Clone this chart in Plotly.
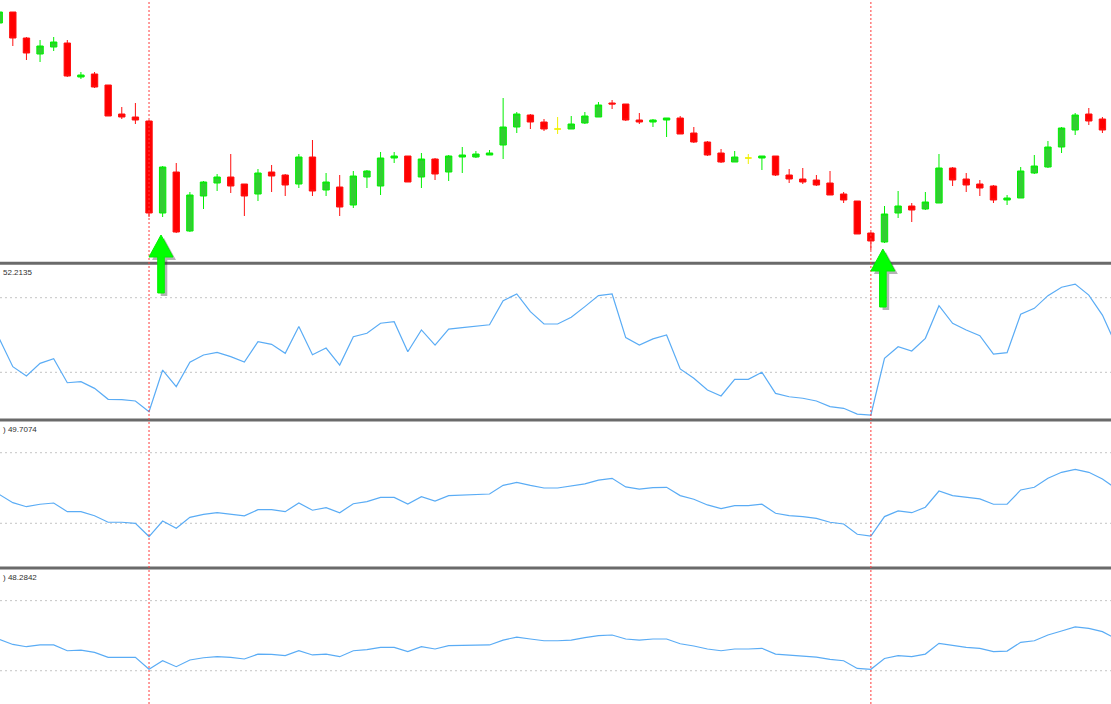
import plotly.graph_objects as go

# candles (price), one per bar
opens = [1.3077, 1.3088, 1.3062, 1.3046, 1.3053, 1.3057, 1.3023, 1.3026, 1.3015, 1.2986,
         1.2983, 1.2979, 1.2887, 1.2928, 1.2869, 1.2904, 1.2917, 1.2923, 1.2916, 1.2906,
         1.2928, 1.2925, 1.2916, 1.2943, 1.2910, 1.2913, 1.2895, 1.2923, 1.2914, 1.2942,
         1.2944, 1.2923, 1.2941, 1.2928, 1.2943, 1.2943, 1.2945, 1.2955, 1.2973, 1.2985,
         1.2978, 1.2971, 1.2971, 1.2977, 1.2983, 1.2997, 1.2996, 1.2980, 1.2978, 1.2980,
         1.2982, 1.2967, 1.2958, 1.2947, 1.2938, 1.2942, 1.2942, 1.2944, 1.2925, 1.2921,
         1.2920, 1.2917, 1.2906, 1.2899, 1.2867, 1.2858, 1.2887, 1.2894, 1.2891, 1.2897,
         1.2932, 1.2921, 1.2916, 1.2914, 1.2900, 1.2902, 1.2927, 1.2933, 1.2953, 1.2970,
         1.2986, 1.2981]
highs = [1.3090, 1.3088, 1.3063, 1.3060, 1.3063, 1.3060, 1.3028, 1.3028, 1.3015, 1.2993,
         1.2997, 1.2980, 1.2934, 1.2937, 1.2908, 1.2919, 1.2926, 1.2946, 1.2916, 1.2931,
         1.2935, 1.2926, 1.2946, 1.2960, 1.2927, 1.2925, 1.2929, 1.2930, 1.2948, 1.2948,
         1.2944, 1.2947, 1.2942, 1.2945, 1.2953, 1.2949, 1.2950, 1.3002, 1.2988, 1.2986,
         1.2981, 1.2983, 1.2984, 1.2988, 1.2998, 1.3000, 1.2996, 1.2987, 1.2981, 1.2982,
         1.2984, 1.2973, 1.2959, 1.2951, 1.2949, 1.2946, 1.2944, 1.2944, 1.2931, 1.2932,
         1.2925, 1.2929, 1.2908, 1.2899, 1.2868, 1.2894, 1.2909, 1.2897, 1.2908, 1.2946,
         1.2933, 1.2927, 1.2920, 1.2915, 1.2905, 1.2933, 1.2945, 1.2959, 1.2973, 1.2987,
         1.2992, 1.2983]
lows = [1.3075, 1.3054, 1.3040, 1.3038, 1.3049, 1.3023, 1.3021, 1.3012, 1.2984, 1.2981,
        1.2976, 1.2883, 1.2883, 1.2867, 1.2868, 1.2891, 1.2909, 1.2907, 1.2884, 1.2899,
        1.2908, 1.2904, 1.2912, 1.2904, 1.2904, 1.2884, 1.2892, 1.2912, 1.2905, 1.2937,
        1.2918, 1.2912, 1.2920, 1.2919, 1.2927, 1.2942, 1.2945, 1.2941, 1.2967, 1.2971,
        1.2969, 1.2966, 1.2971, 1.2976, 1.2983, 1.2991, 1.2979, 1.2976, 1.2973, 1.2963,
        1.2966, 1.2957, 1.2944, 1.2937, 1.2938, 1.2936, 1.2930, 1.2924, 1.2917, 1.2916,
        1.2914, 1.2905, 1.2897, 1.2866, 1.2850, 1.2857, 1.2882, 1.2878, 1.2890, 1.2897,
        1.2914, 1.2908, 1.2904, 1.2897, 1.2895, 1.2902, 1.2926, 1.2932, 1.2947, 1.2965,
        1.2975, 1.2967]
closes = [1.3088, 1.3062, 1.3047, 1.3054, 1.3058, 1.3024, 1.3025, 1.3013, 1.2984, 1.2983,
          1.2980, 1.2887, 1.2933, 1.2868, 1.2905, 1.2918, 1.2923, 1.2914, 1.2904, 1.2927,
          1.2924, 1.2915, 1.2943, 1.2909, 1.2918, 1.2893, 1.2924, 1.2929, 1.2942, 1.2944,
          1.2918, 1.2941, 1.2926, 1.2944, 1.2945, 1.2946, 1.2947, 1.2973, 1.2986, 1.2978,
          1.2971, 1.2971, 1.2976, 1.2984, 1.2995, 1.2996, 1.2980, 1.2978, 1.2980, 1.2982,
          1.2966, 1.2958, 1.2945, 1.2938, 1.2943, 1.2942, 1.2944, 1.2925, 1.2921, 1.2918,
          1.2915, 1.2905, 1.2900, 1.2866, 1.2859, 1.2886, 1.2894, 1.2890, 1.2898, 1.2932,
          1.2920, 1.2915, 1.2912, 1.2900, 1.2902, 1.2929, 1.2934, 1.2953, 1.2972, 1.2985,
          1.2979, 1.2970]

# three RSI windows (the last bar is just off screen)
rsi_fast = [48.2, 33.0, 28.0, 34.8, 37.3, 24.4, 25.0, 21.4, 15.5, 15.3,
            14.6, 8.9, 31.2, 22.3, 35.4, 39.3, 40.7, 38.4, 35.5, 46.4,
            45.0, 40.2, 54.5, 39.4, 43.0, 33.9, 49.1, 50.9, 56.3, 57.1,
            41.0, 52.7, 44.6, 53.2, 53.9, 54.5, 55.5, 68.4, 72.0, 62.5,
            55.9, 55.9, 59.5, 65.2, 71.1, 72.0, 48.6, 44.6, 47.9, 50.0,
            31.8, 26.8, 20.5, 17.3, 26.2, 26.2, 30.0, 18.7, 16.9, 16.1,
            14.6, 11.6, 10.7, 7.6, 7.1, 37.5, 43.7, 41.4, 48.2, 65.7,
            56.3, 52.7, 49.6, 39.7, 40.5, 61.1, 64.3, 71.1, 75.6, 77.3,
            71.4, 60.7, 44.6]
rsi_mid = [46.4, 41.7, 39.4, 40.8, 41.5, 36.6, 36.6, 34.3, 30.6, 30.6,
           30.0, 22.5, 31.3, 27.2, 33.4, 35.1, 36.0, 35.3, 34.2, 37.7,
           37.7, 36.6, 41.5, 37.4, 38.9, 36.0, 41.1, 42.3, 44.7, 44.7,
           40.9, 45.1, 42.6, 45.7, 46.0, 46.0, 46.6, 51.5, 53.2, 51.5,
           50.0, 50.0, 51.1, 52.3, 54.5, 55.5, 50.6, 49.4, 50.2, 50.4,
           45.7, 43.6, 40.4, 38.3, 40.0, 40.0, 40.8, 35.7, 34.3, 33.8,
           32.8, 30.6, 29.6, 23.8, 22.8, 33.8, 37.0, 36.0, 39.1, 48.3,
           45.7, 44.7, 43.8, 40.8, 40.8, 48.9, 50.4, 55.5, 58.9, 60.6,
           58.9, 55.1, 49.7]
rsi_slow = [47.9, 45.0, 43.7, 44.7, 44.7, 41.4, 41.8, 40.5, 37.6, 37.6,
            37.6, 30.8, 35.7, 32.3, 36.1, 37.4, 38.0, 37.6, 36.7, 39.5,
            39.3, 38.6, 41.4, 39.0, 39.5, 38.0, 41.4, 42.0, 43.3, 43.3,
            40.9, 43.7, 42.4, 44.3, 44.3, 44.3, 44.7, 47.5, 49.2, 48.1,
            47.1, 47.1, 47.5, 48.9, 50.0, 50.4, 48.1, 47.5, 48.1, 48.1,
            45.4, 44.1, 42.4, 41.4, 42.4, 42.4, 42.8, 39.5, 39.0, 38.6,
            37.8, 36.5, 35.7, 31.3, 30.8, 37.0, 38.6, 38.0, 39.5, 45.6,
            44.3, 43.3, 42.8, 40.9, 41.2, 46.2, 47.1, 50.4, 52.7, 55.0,
            54.2, 52.3, 48.3]
rsi_labels = ["52.2135", ") 49.7074", ") 48.2842"]
rsi_levels = [30, 70]

signal_lines = [11, 64]          # bars with the vertical markers
arrow_bars = [12, 65]            # buy arrows
arrow_prices = [1.2865, 1.2851]  # arrow tip price

W, H = 1111, 704
x_range = [0.0587, 81.63]
px_bar = W / (x_range[1] - x_range[0])

# panel layout: pixel rows -> paper domains
def dom(top_px, bot_px):
    return [1 - bot_px / H, 1 - top_px / H]

price_dom = dom(0, 262)
price_range = [1.2838, 1.3100]
panels = [
    (dom(265, 419), [4.96, 87.53]),
    (dom(422, 566), [5.8, 87.4]),
    (dom(570, 704), [11.0, 87.5]),
]
separators_px = [263.3, 420, 568]

bars = list(range(len(opens)))
up = [i for i in bars if closes[i] > opens[i]]
down = [i for i in bars if closes[i] < opens[i]]
doji = [i for i in bars if closes[i] == opens[i]]

def pick(arr, idx):
    return [arr[i] for i in idx]

fig = go.Figure()

for idx, fill, edge in [(up, "#32CD32", "#00F000"),
                        (down, "#FF0000", "#FF1010"),
                        (doji, "#FFFF00", "#F0F000")]:
    fig.add_trace(go.Candlestick(
        x=idx, open=pick(opens, idx), high=pick(highs, idx),
        low=pick(lows, idx), close=pick(closes, idx),
        increasing=dict(fillcolor=fill, line=dict(color=edge, width=1)),
        decreasing=dict(fillcolor=fill, line=dict(color=edge, width=1)),
        whiskerwidth=0, showlegend=False, hoverinfo="skip",
        xaxis="x", yaxis="y"))

for k, series in enumerate([rsi_fast, rsi_mid, rsi_slow]):
    fig.add_trace(go.Scatter(
        x=list(range(len(series))), y=series, mode="lines",
        line=dict(color="#5AACF5", width=1.2),
        showlegend=False, hoverinfo="skip",
        xaxis="x", yaxis="y%d" % (k + 2)))

shapes = []
annotations = []

# level lines
for k, (d, r) in enumerate(panels):
    for lv in rsi_levels:
        shapes.append(dict(type="line", xref="paper", yref="y%d" % (k + 2),
                           x0=0, x1=1, y0=lv, y1=lv, layer="below",
                           line=dict(color="#C4C4C4", width=1, dash="2px,3px")))
    annotations.append(dict(
        text=rsi_labels[k], xref="paper", yref="paper", x=0.0005,
        y=d[1] - 7 / H, xanchor="left", yanchor="middle", showarrow=False,
        font=dict(family="Liberation Sans", size=8, color="#303030")))

# window separators
for p in separators_px:
    yy = 1 - p / H
    shapes.append(dict(type="line", xref="paper", yref="paper",
                       x0=0, x1=1, y0=yy, y1=yy,
                       line=dict(color="#6A6A6A", width=3)))

# vertical markers
for b in signal_lines:
    shapes.append(dict(type="line", xref="x", yref="paper",
                       x0=b, x1=b, y0=0, y1=1,
                       line=dict(color="#FF3A3A", width=1, dash="2px,2px")))

# arrows
def price_to_paper(p):
    return price_dom[0] + (p - price_range[0]) / (price_range[1] - price_range[0]) * (price_dom[1] - price_dom[0])

def arrow_path(xc, ytip, ox=0.0, oy=0.0):
    hw, hh, sw, ln = 12 / px_bar, 22 / H, 3.3 / px_bar, 58 / H
    xc = xc + ox / px_bar
    ytip = ytip - oy / H
    pts = [(xc, ytip), (xc + hw, ytip - hh), (xc + sw, ytip - hh),
           (xc + sw, ytip - ln), (xc - sw, ytip - ln), (xc - sw, ytip - hh),
           (xc - hw, ytip - hh)]
    return "M " + " L ".join("%.4f,%.5f" % pt for pt in pts) + " Z"

for b, p in zip(arrow_bars, arrow_prices):
    xc = b - 0.12
    yt = price_to_paper(p)
    shapes.append(dict(type="path", xref="x", yref="paper", layer="above",
                       path=arrow_path(xc, yt, 3, 3),
                       fillcolor="rgba(40,40,40,0.35)", line=dict(width=0)))
    shapes.append(dict(type="path", xref="x", yref="paper", layer="above",
                       path=arrow_path(xc, yt),
                       fillcolor="#00FF00", line=dict(color="#00EE00", width=1)))

layout = dict(
    width=W, height=H, margin=dict(l=0, r=0, t=0, b=0),
    paper_bgcolor="white", plot_bgcolor="white",
    boxgap=0.33,
    xaxis=dict(domain=[0, 1], range=x_range, visible=False,
               rangeslider=dict(visible=False), fixedrange=True),
    yaxis=dict(domain=price_dom, range=price_range, visible=False, fixedrange=True),
    shapes=shapes, annotations=annotations,
)
for k, (d, r) in enumerate(panels):
    layout["yaxis%d" % (k + 2)] = dict(domain=d, range=r, visible=False,
                                       anchor="x", fixedrange=True)
fig.update_layout(**layout)

# the page's default body margin would shift the figure by 8px
fig.write_html("out.html", config={"displayModeBar": False},
               post_script="document.body.style.margin='0';document.body.style.overflow='hidden';")
